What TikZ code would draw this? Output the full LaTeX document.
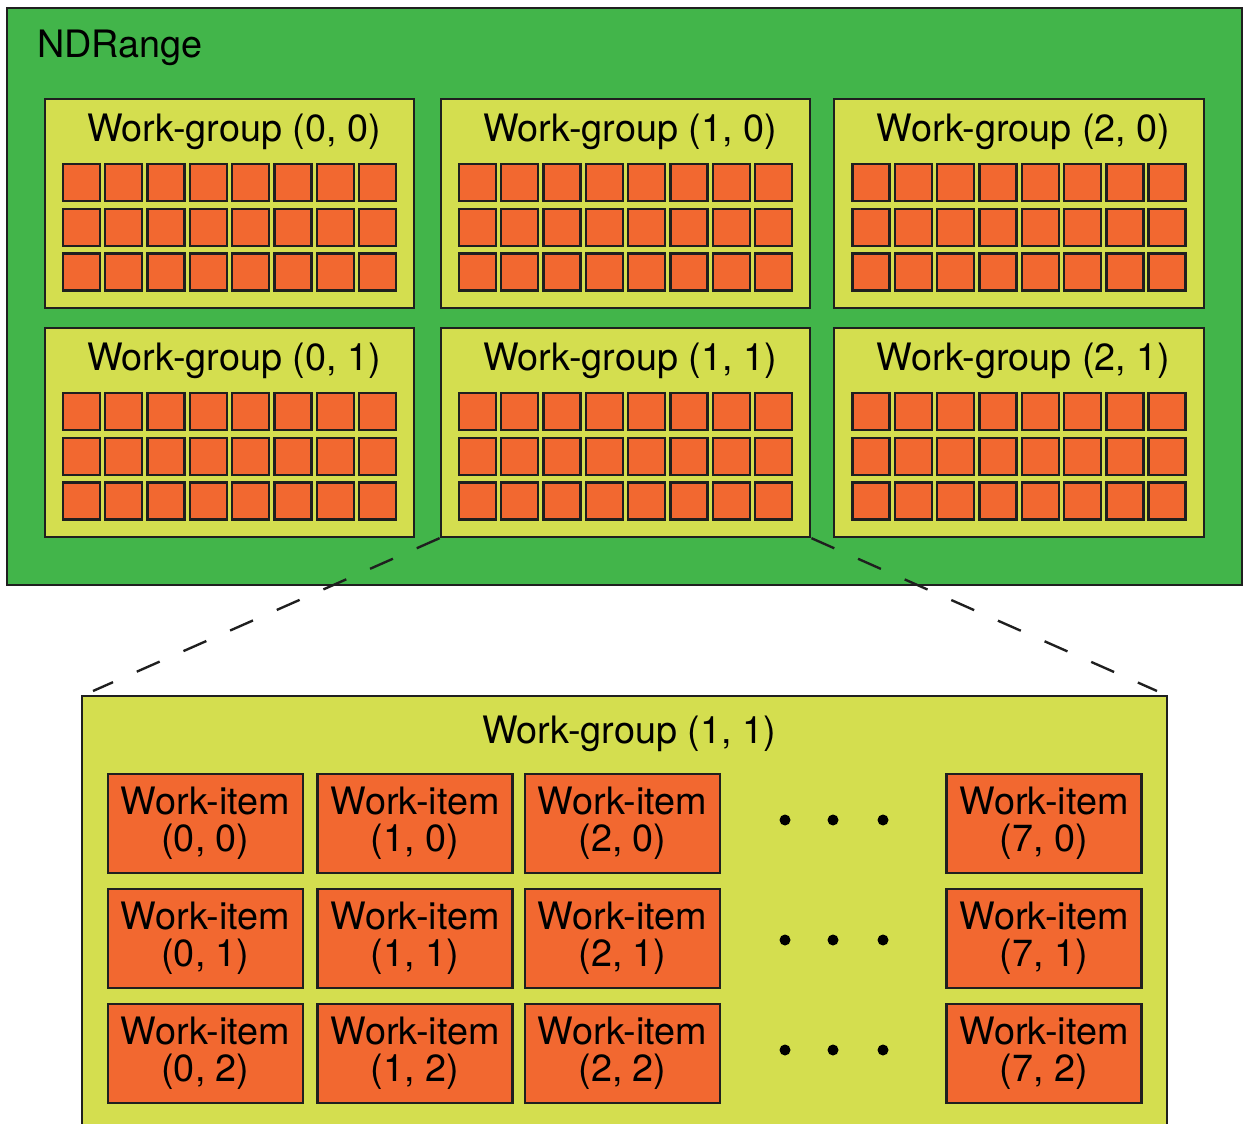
\documentclass[tikz,border=0pt]{standalone}
\usepackage{fontspec}
\setmainfont{TeX Gyre Heros}
\usepackage{xcolor}
\usepackage{tikz}
\usetikzlibrary{positioning}
\definecolor{ndgreen}{RGB}{66,181,74}
\definecolor{wglime}{RGB}{212,222,79}
\definecolor{wiorange}{RGB}{242,104,48}
\newcommand{\lblfont}{\fontsize{21.5}{21}\selectfont}

\begin{document}
\begin{tikzpicture}[x=0.02cm,y=-0.02cm,every node/.style={font=\lblfont},
    lbl/.style={inner sep=0pt},
    edge/.style={draw=black!88,line width=1.35pt},
    groupbox/.style={edge,fill=wglime,minimum width=7.39cm,minimum height=4.18cm,inner sep=0pt},
    cellbox/.style={edge,fill=wiorange,minimum size=0.74cm,inner sep=0pt},
    itembox/.style={edge,fill=wiorange,minimum width=3.9cm,minimum height=1.98cm,inner sep=0pt,align=center},
    dotmark/.style={circle,fill=black,minimum size=0.22cm,inner sep=0pt},
    zoomline/.style={line width=1.35pt,draw=black!88,dash pattern=on 0.5cm off 0.52cm}]
  \useasboundingbox (0,0) rectangle (1243,1124);
  % ---- top: the NDRange with its 3x2 work-groups ----
  \node[edge,fill=ndgreen,minimum width=24.7cm,minimum height=11.54cm,inner sep=0pt] (nd) at (624.5,296.5) {};
  \node[lbl,anchor=base west] (ndlabel) at (37,58) {NDRange};
  \foreach \i/\cx in {0/229.5,1/625.5,2/1019}{
    \foreach \j/\cy in {0/203.5,1/432.5}{
      \node[groupbox] (wg\i\j) at (\cx,\cy) {};
      \node[lbl,anchor=base] (wgt\i\j) at (\cx+4.5,\cy-61.5) {Work-group (\i, \j)};
      % 8x3 work-items per group
      \foreach \k in {0,...,7}{
        \foreach \l in {0,1,2}{
          \node[cellbox] (c\i\j\k\l) at ({\cx-148+42.3*\k},{\cy-21+44.7*\l}) {};
        }
      }
    }
  }
  % ---- bottom: close-up of work-group (1, 1) ----
  \fill[wglime] (82,696) rectangle (1167,1124);
  \draw[edge] (82,1124) -- (82,696) -- (1167,696) -- (1167,1124);
  \coordinate (zl) at (93,691);
  \coordinate (zr) at (1157,691);
  \draw[zoomline] (wg11.south west) -- (zl);
  \draw[zoomline] (wg11.south east) -- (zr);
  \node[lbl,anchor=base] (zoomtitle) at (629,743) {Work-group (1, 1)};
  \foreach \r/\ry in {0/823.5,1/938.5,2/1053.5}{
    \foreach \k/\rx in {0/205.5,1/415,2/622.5,7/1044}{
      \node[itembox] (wi\k\r) at (\rx,\ry) {Work-item\\(\k, \r)};
    }
  }
  % elided columns 3..6
  \foreach \r/\dy in {0/820,1/940,2/1050}{
    \foreach \dx [count=\n] in {785,833,883}{
      \node[dotmark] (dot\r\n) at (\dx,\dy) {};
    }
  }
\end{tikzpicture}
\end{document}
